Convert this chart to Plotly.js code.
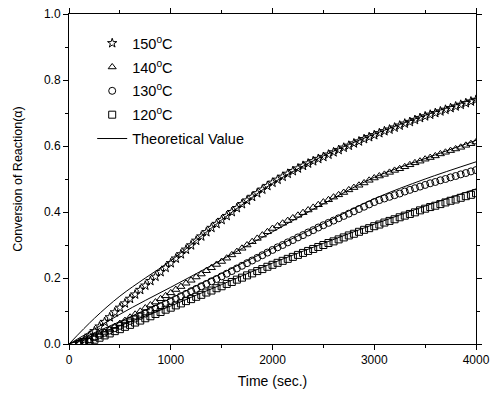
<!DOCTYPE html>
<html>
<head>
<meta charset="utf-8">
<script src="https://cdn.plot.ly/plotly-3.0.1.min.js"></script>
<style>html,body{margin:0;padding:0;background:#fff;}#chart{width:494px;height:397px;}</style>
</head>
<body>
<div id="chart"></div>
<script>
// Experimental time axis (sec.)
var timeSec = [100,150,200,250,300,350,400,450,500,550,600,650,700,750,800,850,900,950,1000,
1050,1100,1150,1200,1250,1300,1350,1400,1450,1500,1550,1600,1650,1700,1750,1800,1850,1900,1950,2000,
2050,2100,2150,2200,2250,2300,2350,2400,2450,2500,2550,2600,2650,2700,2750,2800,2850,2900,2950,3000,
3050,3100,3150,3200,3250,3300,3350,3400,3450,3500,3550,3600,3650,3700,3750,3800,3850,3900,3950,4000];

var alpha150 = [0.000,0.012,0.025,0.039,0.053,0.067,0.081,0.096,0.110,0.123,0.137,0.150,0.164,0.177,0.191,0.204,0.218,0.231,0.245,
0.259,0.272,0.286,0.299,0.313,0.326,0.339,0.352,0.364,0.376,0.388,0.400,0.412,0.424,0.435,0.446,0.457,0.468,0.479,0.489,
0.498,0.507,0.516,0.524,0.532,0.540,0.547,0.554,0.561,0.567,0.574,0.581,0.588,0.595,0.601,0.608,0.614,0.621,0.627,0.633,
0.639,0.645,0.650,0.656,0.662,0.668,0.673,0.679,0.685,0.690,0.695,0.700,0.705,0.710,0.715,0.720,0.725,0.730,0.735,0.740];

var alpha140 = [0.000,0.003,0.009,0.018,0.027,0.035,0.044,0.053,0.062,0.071,0.081,0.090,0.099,0.109,0.118,0.127,0.137,0.146,0.155,
0.165,0.174,0.184,0.193,0.203,0.212,0.222,0.231,0.241,0.250,0.260,0.270,0.280,0.290,0.300,0.310,0.320,0.330,0.340,0.350,
0.358,0.366,0.374,0.382,0.390,0.398,0.406,0.414,0.422,0.430,0.437,0.445,0.452,0.459,0.467,0.474,0.481,0.488,0.496,0.503,
0.509,0.514,0.520,0.526,0.531,0.537,0.543,0.549,0.554,0.560,0.565,0.570,0.576,0.581,0.586,0.591,0.596,0.602,0.607,0.612];

var alpha130 = [0.000,0.007,0.014,0.021,0.027,0.034,0.041,0.048,0.055,0.062,0.070,0.077,0.085,0.092,0.100,0.107,0.115,0.122,0.130,
0.137,0.145,0.152,0.160,0.167,0.175,0.182,0.190,0.197,0.205,0.213,0.221,0.229,0.237,0.245,0.253,0.261,0.269,0.277,0.285,
0.293,0.300,0.308,0.315,0.323,0.330,0.338,0.345,0.353,0.360,0.367,0.374,0.381,0.388,0.395,0.402,0.409,0.416,0.423,0.430,
0.436,0.441,0.446,0.451,0.456,0.462,0.467,0.472,0.477,0.482,0.487,0.491,0.496,0.500,0.505,0.509,0.514,0.518,0.523,0.527];

var alpha120 = [0.000,0.002,0.006,0.013,0.019,0.026,0.032,0.039,0.045,0.052,0.058,0.065,0.071,0.078,0.084,0.091,0.097,0.104,0.110,
0.117,0.123,0.130,0.136,0.143,0.149,0.156,0.162,0.169,0.175,0.182,0.188,0.195,0.201,0.208,0.214,0.221,0.227,0.234,0.240,
0.246,0.252,0.258,0.264,0.270,0.276,0.282,0.288,0.294,0.300,0.306,0.311,0.317,0.323,0.329,0.334,0.340,0.346,0.351,0.357,
0.362,0.368,0.373,0.378,0.384,0.389,0.394,0.399,0.405,0.410,0.415,0.419,0.424,0.429,0.434,0.438,0.443,0.448,0.452,0.457];

// Theoretical curves
var timeTheory = [0,250,500,750,1000,1250,1500,1750,2000,2500,3000,3500,4000];
var theory150 = [0,0.078,0.145,0.200,0.252,0.314,0.376,0.433,0.487,0.570,0.636,0.693,0.745];
var theory140 = [0,0.045,0.090,0.132,0.172,0.213,0.255,0.298,0.340,0.425,0.505,0.562,0.617];
var theory130 = [0,0.034,0.068,0.103,0.138,0.176,0.214,0.252,0.290,0.365,0.440,0.500,0.552];
var theory120 = [0,0.027,0.055,0.085,0.115,0.148,0.180,0.213,0.245,0.305,0.363,0.418,0.470];

var seriesNames = ['150<sup>o</sup>C','140<sup>o</sup>C','130<sup>o</sup>C','120<sup>o</sup>C'];
var symbols = ['star-open','triangle-up-open','circle-open','square-open'];
var dataSets = [alpha150, alpha140, alpha130, alpha120];
var theorySets = [theory150, theory140, theory130, theory120];

var traces = [];
for (var i = 0; i < 4; i++) {
  traces.push({
    x: timeSec, y: dataSets[i], type: 'scatter', mode: 'markers', name: seriesNames[i],
    legendgroup: 'g' + i,
    marker: {symbol: symbols[i], size: 7, color: '#000', line: {color: '#000', width: 1}}
  });
}
for (var j = 0; j < 4; j++) {
  traces.push({
    x: timeTheory, y: theorySets[j], type: 'scatter', mode: 'lines', name: 'Theoretical Value',
    legendgroup: 'th', showlegend: j === 0,
    line: {color: '#000', width: 1, shape: 'spline'}
  });
}

var fam = 'Arial, "Liberation Sans", sans-serif';
var tickFont = {family: fam, size: 12, color: '#000'};
var layout = {
  width: 494, height: 397,
  margin: {l: 69, r: 18, t: 14, b: 53},
  paper_bgcolor: '#fff', plot_bgcolor: '#fff',
  font: tickFont,
  showlegend: true,
  legend: {x: 0.057, y: 0.96, xanchor: 'left', yanchor: 'top', bgcolor: 'rgba(0,0,0,0)',
           font: {family: fam, size: 14.5, color: '#000'},
           traceorder: 'grouped', tracegroupgap: 2},
  xaxis: {
    range: [0, 4000], tickvals: [0,1000,2000,3000,4000], ticks: 'outside', ticklen: 5, tickwidth: 1,
    tickcolor: '#000', showline: true, linecolor: '#000', linewidth: 1, mirror: 'allticks',
    showgrid: false, zeroline: false,
    minor: {dtick: 500, ticks: 'outside', ticklen: 3, tickcolor: '#000', showgrid: false},
    tickfont: tickFont,
    title: {text: 'Time (sec.)', font: {family: fam, size: 14, color: '#000'}, standoff: 9}
  },
  yaxis: {
    range: [0, 1.0], dtick: 0.2, tick0: 0, tickformat: '.1f', ticks: 'outside', ticklen: 5, tickwidth: 1,
    tickcolor: '#000', showline: true, linecolor: '#000', linewidth: 1, mirror: 'allticks',
    showgrid: false, zeroline: false,
    minor: {dtick: 0.1, ticks: 'outside', ticklen: 3, tickcolor: '#000', showgrid: false},
    tickfont: tickFont,
    title: {text: 'Conversion of Reaction(α)', font: {family: fam, size: 12.5, color: '#000'}, standoff: 18}
  }
};

Plotly.newPlot('chart', traces, layout, {displayModeBar: false, staticPlot: true});
</script>
</body>
</html>
